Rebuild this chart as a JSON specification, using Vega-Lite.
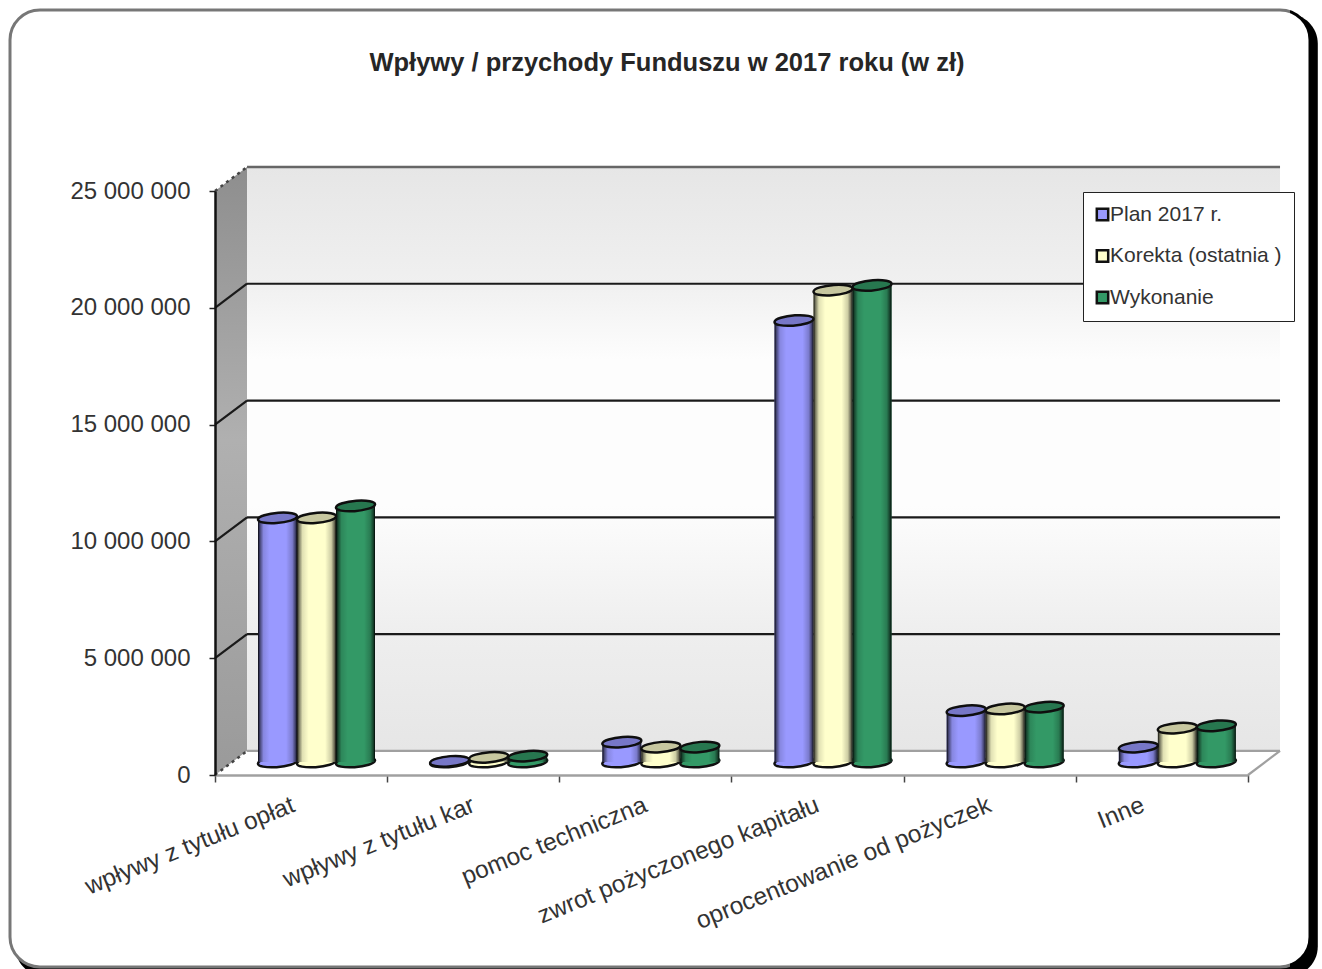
{
"$schema":"https://vega.github.io/schema/vega-lite/v6.json",
"width":1300,"height":955,
"autosize":{"type":"none"},
"padding":{"left":10,"top":10,"right":12,"bottom":4},
"background":"white",
"config":{"view":{"stroke":null},"font":"Liberation Sans"},
"title":{"text":"Wpływy / przychody Funduszu w 2017 roku  (w zł)","font":"Liberation Sans","fontSize":25.5,"fontWeight":"bold","color":"#262626","anchor":"middle","frame":"group","offset":-80,"dx":7,"baseline":"middle"},
"datasets":{
"bars":[
{"kategoria":"wpływy z tytułu opłat","seria":"Plan 2017 r.","wartosc":10450000},
{"kategoria":"wpływy z tytułu opłat","seria":"Korekta (ostatnia )","wartosc":10450000},
{"kategoria":"wpływy z tytułu opłat","seria":"Wykonanie","wartosc":10960000},
{"kategoria":"wpływy z tytułu kar","seria":"Plan 2017 r.","wartosc":30000},
{"kategoria":"wpływy z tytułu kar","seria":"Korekta (ostatnia )","wartosc":200000},
{"kategoria":"wpływy z tytułu kar","seria":"Wykonanie","wartosc":250000},
{"kategoria":"pomoc techniczna","seria":"Plan 2017 r.","wartosc":850000},
{"kategoria":"pomoc techniczna","seria":"Korekta (ostatnia )","wartosc":640000},
{"kategoria":"pomoc techniczna","seria":"Wykonanie","wartosc":640000},
{"kategoria":"zwrot pożyczonego kapitału","seria":"Plan 2017 r.","wartosc":18900000},
{"kategoria":"zwrot pożyczonego kapitału","seria":"Korekta (ostatnia )","wartosc":20200000},
{"kategoria":"zwrot pożyczonego kapitału","seria":"Wykonanie","wartosc":20400000},
{"kategoria":"oprocentowanie od pożyczek","seria":"Plan 2017 r.","wartosc":2200000},
{"kategoria":"oprocentowanie od pożyczek","seria":"Korekta (ostatnia )","wartosc":2270000},
{"kategoria":"oprocentowanie od pożyczek","seria":"Wykonanie","wartosc":2350000},
{"kategoria":"Inne","seria":"Plan 2017 r.","wartosc":640000},
{"kategoria":"Inne","seria":"Korekta (ostatnia )","wartosc":1450000},
{"kategoria":"Inne","seria":"Wykonanie","wartosc":1550000}
],
"grid":[
{"u1":0.186,"u2":6.186,"v":6030000},
{"u1":0.186,"u2":6.186,"v":11030000},
{"u1":0.186,"u2":6.186,"v":16030000},
{"u1":0.186,"u2":6.186,"v":21030000}
],
"diag":[
{"u1":0,"u2":0.186,"v1":5000000,"v2":6030000},
{"u1":0,"u2":0.186,"v1":10000000,"v2":11030000},
{"u1":0,"u2":0.186,"v1":15000000,"v2":16030000},
{"u1":0,"u2":0.186,"v1":20000000,"v2":21030000}
],
"dots":[
{"u1":0,"u2":0.186,"v1":0,"v2":1030000},
{"u1":0,"u2":0.186,"v1":25000000,"v2":26030000}
],
"edges":[
{"u1":0.186,"u2":6.186,"v1":1030000,"v2":1030000},
{"u1":6,"u2":6.186,"v1":0,"v2":1030000}
],
"side":[
{"u":0,"lo":0,"hi":25000000},
{"u":0.186,"lo":1030000,"hi":26030000}
],
"ticks":[{"u":0,"v":0},{"u":0,"v":5000000},{"u":0,"v":10000000},{"u":0,"v":15000000},{"u":0,"v":20000000},{"u":0,"v":25000000}]
},
"layer":[
{
"data":{"values":[{"a":0.004,"b":1.006,"c":0.996,"d":-0.012}]},
"mark":{"type":"rect","fill":"black","cornerRadius":30},
"encoding":{
"x":{"field":"a","type":"quantitative","axis":null,"scale":{"domain":[0,1],"range":[0,1300]}},
"x2":{"field":"b"},
"y":{"field":"c","type":"quantitative","axis":null,"scale":{"domain":[0,1],"range":[955,0]}},
"y2":{"field":"d"}
}
},
{
"data":{"values":[{"a":0,"b":1,"c":1,"d":-0.002}]},
"mark":{"type":"rect","fill":"white","stroke":{"gradient":"linear","x1":0,"y1":0,"x2":1,"y2":0,"stops":[{"offset":0,"color":"#777777"},{"offset":0.985,"color":"#777777"},{"offset":0.985,"color":"#000000"},{"offset":1,"color":"#000000"}]},"strokeWidth":3,"cornerRadius":30},
"encoding":{
"x":{"field":"a","type":"quantitative","axis":null,"scale":{"domain":[0,1],"range":[0,1300]}},
"x2":{"field":"b"},
"y":{"field":"c","type":"quantitative","axis":null,"scale":{"domain":[0,1],"range":[955,0]}},
"y2":{"field":"d"}
}
},
{
"encoding":{
"x":{"type":"quantitative","axis":null,"scale":{"domain":[0,6],"range":[205,1238]}},
"y":{"type":"quantitative","axis":null,"scale":{"domain":[0,25000000],"range":[765,181]}}
},
"layer":[
{
"data":{"name":"side"},
"mark":{"type":"area","fill":{"gradient":"linear","x1":0,"y1":0,"x2":0,"y2":1,"stops":[{"offset":0,"color":"#8e8e8e"},{"offset":0.45,"color":"#b0b0b0"},{"offset":1,"color":"#9a9a9a"}]}},
"encoding":{
"x":{"field":"u","type":"quantitative"},
"y":{"field":"lo","type":"quantitative"},
"y2":{"field":"hi"}
}
},
{
"data":{"values":[{"a":0.186,"b":6.186,"c":1030000,"d":26030000}]},
"mark":{"type":"rect","fill":{"gradient":"linear","x1":0,"y1":0,"x2":0,"y2":1,"stops":[{"offset":0,"color":"#e6e6e6"},{"offset":0.2,"color":"#f0f0f0"},{"offset":0.33,"color":"#fdfdfd"},{"offset":0.58,"color":"#fdfdfd"},{"offset":0.8,"color":"#eeeeee"},{"offset":1,"color":"#e6e6e6"}]}},
"encoding":{
"x":{"field":"a","type":"quantitative"},"x2":{"field":"b"},
"y":{"field":"c","type":"quantitative"},"y2":{"field":"d"}
}
},
{
"data":{"name":"grid"},
"mark":{"type":"rule","color":"#1a1a1a","strokeWidth":2.2},
"encoding":{"x":{"field":"u1","type":"quantitative"},"x2":{"field":"u2"},"y":{"field":"v","type":"quantitative"}}
},
{
"data":{"name":"diag"},
"mark":{"type":"rule","color":"#1a1a1a","strokeWidth":2.2},
"encoding":{"x":{"field":"u1","type":"quantitative"},"x2":{"field":"u2"},"y":{"field":"v1","type":"quantitative"},"y2":{"field":"v2"}}
},
{
"data":{"name":"dots"},
"mark":{"type":"rule","color":"#444444","strokeWidth":2.5,"strokeDash":[3,4]},
"encoding":{"x":{"field":"u1","type":"quantitative"},"x2":{"field":"u2"},"y":{"field":"v1","type":"quantitative"},"y2":{"field":"v2"}}
},
{
"data":{"name":"edges"},
"mark":{"type":"rule","color":"#a0a0a0","strokeWidth":2.2},
"encoding":{"x":{"field":"u1","type":"quantitative"},"x2":{"field":"u2"},"y":{"field":"v1","type":"quantitative"},"y2":{"field":"v2"}}
},
{
"data":{"values":[{"a":0.186,"b":6.186,"c":26030000}]},
"mark":{"type":"rule","color":"#666666","strokeWidth":2.4},
"encoding":{"x":{"field":"a","type":"quantitative"},"x2":{"field":"b"},"y":{"field":"c","type":"quantitative"}}
}
]
},
{
"data":{"name":"ticks"},
"mark":{"type":"point","opacity":0,"size":1},
"encoding":{
"x":{"field":"u","type":"quantitative","axis":null,"scale":{"domain":[0,6],"range":[205,1238]}},
"y":{"field":"v","type":"quantitative","scale":{"domain":[0,25000000],"range":[765,181]},"axis":{"values":[0,5000000,10000000,15000000,20000000,25000000],"labelExpr":"replace(format(datum.value,','),/,/g,' ')","grid":false,"title":null,"offset":-205,"zindex":1,"domainColor":"#111111","domainWidth":2.5,"tickColor":"#222222","tickWidth":1.5,"tickSize":6,"labelFont":"Liberation Sans","labelFontSize":24,"labelColor":"#333333","labelPadding":19}}
}
},
{
"data":{"name":"bars"},
"encoding":{
"x":{"field":"kategoria","type":"nominal","sort":null,"scale":{"domain":["wpływy z tytułu opłat","wpływy z tytułu kar","pomoc techniczna","zwrot pożyczonego kapitału","oprocentowanie od pożyczek","Inne"],"range":[205,1238],"paddingInner":0,"paddingOuter":0},"axis":{"title":null,"offset":-190,"zindex":1,"tickBand":"extent","domainColor":"#a0a0a0","domainWidth":2.5,"tickColor":"#444444","tickWidth":1.5,"tickSize":7,"labelAngle":-22,"labelAlign":"right","labelBaseline":"middle","labelFont":"Liberation Sans","labelFontSize":24.5,"labelColor":"#333333","labelPadding":22,"labelLimit":400,"labelOverlap":false,"labelOffset":{"condition":[{"test":"datum.label==='Inne'","value":-19},{"test":"datum.label==='wpływy z tytułu opłat'","value":-8}],"value":0}}},
"xOffset":{"field":"seria","type":"nominal","sort":null,"scale":{"domain":["Plan 2017 r.","Korekta (ostatnia )","Wykonanie"],"range":[43,160],"paddingInner":0,"paddingOuter":0}},
"y":{"field":"wartosc","type":"quantitative","axis":null,"stack":null,"scale":{"domain":[0,25000000],"range":[752,168]}}
},
"layer":[
{
"transform":[{"calculate":"0","as":"podstawa"}],
"mark":{"type":"point","filled":true,"stroke":"#111111","strokeWidth":2.5,"opacity":1,"size":1521,"shape":"M-1,0.07 A1,0.26 -5 1 1 1,-0.07 A1,0.26 -5 1 1 -1,0.07 Z"},
"encoding":{
"y":{"field":"podstawa","type":"quantitative","axis":null},
"color":{"field":"seria","type":"nominal","sort":null}
}
},
{
"mark":{"type":"bar"},
"encoding":{
"color":{"field":"seria","type":"nominal","sort":null,"scale":{"domain":["Plan 2017 r.","Korekta (ostatnia )","Wykonanie"],"range":["#9999ff","#ffffcc","#339966"]},
"legend":{"title":null,"orient":"none","legendX":1073,"legendY":182,"fillColor":"white","strokeColor":"#222222","padding":12,"symbolType":"square","symbolSize":130,"symbolStrokeColor":"#111111","symbolStrokeWidth":2.5,"symbolOffset":-3,"labelFont":"Liberation Sans","labelFontSize":21,"labelColor":"#333333","labelOffset":-3,"rowPadding":18.5,"labelLimit":300}}
}
},
{
"mark":{"type":"bar","fill":{"gradient":"linear","x1":0,"y1":0,"x2":1,"y2":0,"stops":[{"offset":0,"color":"rgba(0,0,0,0.95)"},{"offset":0.05,"color":"rgba(0,0,0,0.55)"},{"offset":0.14,"color":"rgba(0,0,0,0.12)"},{"offset":0.3,"color":"rgba(0,0,0,0)"},{"offset":0.72,"color":"rgba(0,0,0,0)"},{"offset":0.88,"color":"rgba(0,0,0,0.2)"},{"offset":0.96,"color":"rgba(0,0,0,0.6)"},{"offset":1,"color":"rgba(0,0,0,0.95)"}]}}
},
{
"mark":{"type":"point","filled":true,"stroke":"#111111","strokeWidth":2.5,"opacity":1,"size":1521,"shape":"M-1,0.07 A1,0.26 -5 1 1 1,-0.07 A1,0.26 -5 1 1 -1,0.07 Z"},
"encoding":{
"color":{"field":"seria","type":"nominal","sort":null}
}
},
{
"mark":{"type":"point","filled":true,"fill":"#000000","fillOpacity":0.22,"strokeOpacity":0,"size":1521,"shape":"M-1,0.07 A1,0.26 -5 1 1 1,-0.07 A1,0.26 -5 1 1 -1,0.07 Z"}
}
]
}
],
"resolve":{"scale":{"x":"independent","y":"independent"}}
}
